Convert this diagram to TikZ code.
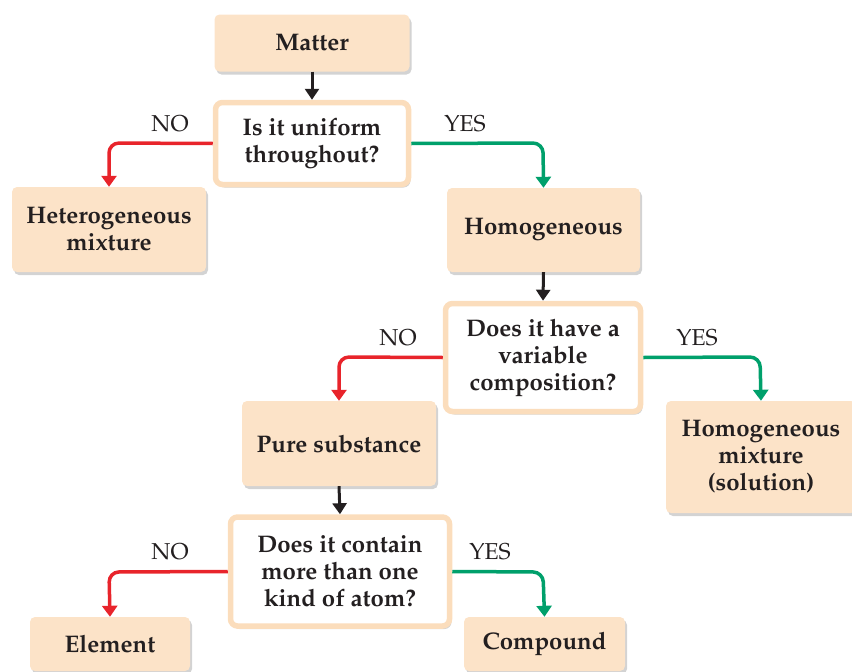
\documentclass[tikz,border=0pt]{standalone}
\usepackage[T1]{fontenc}
\usepackage{mathpazo}
\usetikzlibrary{shadows,arrows.meta}
\definecolor{peach}{HTML}{FCE3C8}
\definecolor{peachline}{HTML}{FBDDBC}
\definecolor{myred}{HTML}{E8242B}
\definecolor{mygreen}{HTML}{00A06B}
\definecolor{ink}{HTML}{231F20}
\tikzset{
  box/.style={fill=peach, rounded corners=5pt, align=center, text=ink,
    font=\fontsize{24}{27}\selectfont\bfseries,
    drop shadow={shadow xshift=2pt, shadow yshift=-3pt, opacity=0.35, fill=gray}},
  qbox/.style={fill=white, draw=peachline, line width=5.5pt, rounded corners=7pt, align=center, text=ink,
    font=\fontsize{24}{27}\selectfont\bfseries,
    drop shadow={shadow xshift=2pt, shadow yshift=-3pt, opacity=0.35, fill=gray}},
  blk/.style={draw=ink, line width=3pt, -{Triangle[length=11pt,width=14pt]}},
  noarr/.style={draw=myred, line width=3.5pt, rounded corners=10pt, -{Triangle[length=11pt,width=15pt]}},
  yesarr/.style={draw=mygreen, line width=3.5pt, rounded corners=10pt, -{Triangle[length=11pt,width=15pt]}},
  lab/.style={text=ink, font=\fontsize{23}{26}\selectfont}
}
\begin{document}
\begin{tikzpicture}[x=1pt,y=-1pt]
\useasboundingbox (0,0) rectangle (852,672);
\node[box, minimum width=195pt, minimum height=57pt] (matter) at (312,43) {Matter};
\node[qbox, minimum width=193pt, minimum height=82pt] (q1) at (312,143.5) {Is it uniform\\throughout?};
\node[box, minimum width=194pt, minimum height=85pt] (het) at (109,229.5) {Heterogeneous\\mixture};
\node[box, minimum width=193pt, minimum height=84pt] (homo) at (543.5,230) {Homogeneous};
\node[qbox, minimum width=195pt, minimum height=108pt] (q2) at (543,357.5) {Does it have a\\variable\\composition?};
\node[box, minimum width=194pt, minimum height=85pt] (pure) at (339,443.5) {Pure substance};
\node[box, minimum width=190pt, minimum height=112pt] (sol) at (761,457) {Homogeneous\\mixture\\(solution)};
\node[qbox, minimum width=219pt, minimum height=109pt] (q3) at (340,571.5) {Does it contain\\more than one\\kind of atom?};
\node[box, minimum width=160pt, minimum height=54pt] (elem) at (110,644) {Element};
\node[box, minimum width=161pt, minimum height=54pt] (comp) at (544.5,644) {Compound};

\coordinate (c1) at (109,143);
\coordinate (c2) at (543,143);
\coordinate (c3) at (339,357);
\coordinate (c4) at (760,357);
\coordinate (c5) at (109,572);
\coordinate (c6) at (543,572);

\draw[blk] (matter.south) -- (q1.north);
\draw[blk] (homo.south) -- (q2.north);
\draw[blk] (pure.south) -- (q3.north);

\draw[noarr] (q1.west) -- (c1) -- (het.north);
\draw[yesarr] (q1.east) -- (c2) -- (homo.north);
\draw[noarr] (q2.west) -- (c3) -- (pure.north);
\draw[yesarr] (q2.east) -- (c4) -- (sol.north);
\draw[noarr] (q3.west) -- (c5) -- (elem.north);
\draw[yesarr] (q3.east) -- (c6) -- (comp.north);

\node[lab] (l1) at (170,124) {NO};
\node[lab] (l2) at (465,124) {YES};
\node[lab] (l3) at (398,338) {NO};
\node[lab] (l4) at (697,338) {YES};
\node[lab] (l5) at (170,552) {NO};
\node[lab] (l6) at (490,552) {YES};
\end{tikzpicture}
\end{document}
